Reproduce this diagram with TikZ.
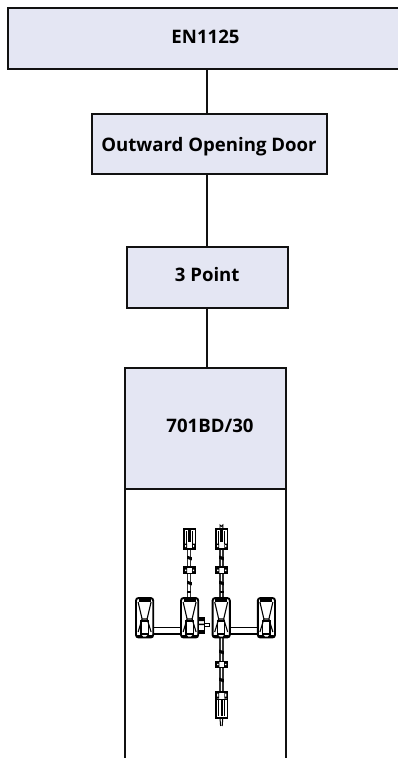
\documentclass[tikz,border=0pt]{standalone}
\usepackage{fontspec}
\setmainfont{Open Sans}
\definecolor{boxfill}{HTML}{E4E6F3}
\definecolor{edge}{HTML}{111111}
\newcommand{\boxtext}[2]{\raisebox{-#1pt}[0pt][0pt]{#2}}
\tikzset{
  x=1pt,y=-1pt,
  box/.style={draw=edge,line width=2pt,fill=boxfill,inner sep=0pt,outer sep=0pt,font=\fontsize{18.6}{20}\selectfont\bfseries,align=center},
  conn/.style={draw=edge,line width=2pt},
  wall/.style={draw=edge,line width=2pt},
  rod/.style={draw=black!80,line width=1.2pt},
  hw/.style={draw=black,line width=1.2pt},
  padpic/.pic={
    \draw[hw,line width=1.9pt,rounded corners=2.6pt,fill=white] (-8.6,0) rectangle (8.6,39.5);
    \draw[hw,line width=2.6pt] (-6,2.6) -- (6,2.6);
    \draw[hw,line width=1.1pt] (-6.5,4) -- (-2.5,21) -- (2.5,21) -- (6.5,4);
    \draw[hw,line width=1.1pt] (-2.5,21) -- (-6.5,34) (2.5,21) -- (6.5,34);
    \draw[hw,line width=1.1pt] (-3.6,23) rectangle (3.6,36);
    \draw[hw,line width=2.8pt,line cap=round] (-7,38.2) -- (-3,38.2) (3,38.2) -- (7,38.2);
  },
  guidepic/.pic={
    \fill[black] (-2.4,-2.4) -- (2.4,-.8) -- (2.4,2.4) -- (-2.4,.8) -- cycle;
  },
  clamppic/.pic={
    \draw[hw,line width=1.3pt,fill=white] (-5.6,-3.2) rectangle (5.6,3.2);
    \fill[black] (-5.6,-3.2) rectangle (-2.4,3.2) (2.4,-3.2) rectangle (5.6,3.2);
    \fill[white] (-4.6,-.7) rectangle (-3.2,.7) (3.2,-.7) rectangle (4.6,.7);
  },
  uppick/.pic={
    \draw[hw,line width=1.4pt,fill=white] (-5.6,0) rectangle (5.6,20);
    \draw[hw,line width=.9pt] (-3,2) -- (-3,15) (3,2) -- (3,15);
    \fill[black] (-1.5,1) rectangle (1.5,13);
    \fill[black] (-5.6,14.5) rectangle (-2.6,20) (2.6,14.5) rectangle (5.6,20);
    \fill[white] (-4.6,16) rectangle (-3.4,18) (3.4,16) rectangle (4.6,18);
  },
  downpick/.pic={
    \draw[hw,line width=1.4pt,fill=white] (-5.6,0) rectangle (5.6,26);
    \fill[black] (-5.6,0) rectangle (-2.6,6.5) (2.6,0) rectangle (5.6,6.5);
    \fill[white] (-4.6,1.6) rectangle (-3.4,4.6) (3.4,1.6) rectangle (4.6,4.6);
    \draw[hw,line width=.9pt] (-3,7) -- (-3,24) (3,7) -- (3,24);
    \draw[hw,line width=.9pt] (-5.6,7.5) -- (5.6,7.5);
    \fill[black] (-1,8) rectangle (1,24);
  },
}
\begin{document}
\begin{tikzpicture}
\useasboundingbox (0,0) rectangle (398,758);
\node[box,minimum width=396pt,minimum height=60.5pt] (std) at (205.5,38.7) {\boxtext{5.0}{EN1125}};
\node[box,minimum width=235pt,minimum height=60pt] (door) at (209,144) {\boxtext{7.4}{Outward Opening Door}};
\node[box,minimum width=161pt,minimum height=60.4pt] (pts) at (207.2,277.5) {\boxtext{4.2}{3 Point}};
\node[box,minimum width=161pt,minimum height=121pt] (prod) at (205.5,428.2) {\hspace*{9pt}\boxtext{4.5}{701BD/30}};
\coordinate (spine) at (206.5,0);
\coordinate (wl) at (125,762);
\coordinate (wr) at (286,762);
\draw[conn] (std.south -| spine) -- (door.north -| spine);
\draw[conn] (door.south -| spine) -- (pts.north -| spine);
\draw[conn] (pts.south -| spine) -- (prod.north -| spine);
\draw[wall] (prod.south west) -- (wl);
\draw[wall] (prod.south east) -- (wr);
% upper rods
\foreach \x/\a in {189.2/533,221.4/529}{
  \draw[rod] (\x-1.5,\a) -- (\x-1.5,600) (\x+1.5,\a) -- (\x+1.5,600);
}
\draw[hw,line width=.9pt] (220,529) -- (220,525) arc (180:0:1.4) -- (222.8,529);
% lower rod
\draw[rod] (219.9,636) -- (219.9,692) (222.9,636) -- (222.9,692);
\draw[hw,line width=1pt] (220,718) -- (220.6,726) (222.8,718) -- (222.2,726);
% picks and clamps
\path (189.6,529) pic {uppick};
\path (221.7,529) pic {uppick};
\path (189.6,570.3) pic {clamppic};
\path (221.7,570.3) pic {clamppic};
\path (221.7,664.5) pic {clamppic};
\path (221.7,692) pic {downpick};
\foreach \p in {(189.4,558),(221.5,558),(189.4,583),(221.5,583),(221.5,652),(221.5,680)}{
  \path \p pic {guidepic};
}
\foreach \p in {(189.4,592),(221.5,592)}{\fill[black] \p ++(-2,-.7) rectangle ++(4,1.4);}
% bars
\draw[hw,line width=1.3pt,fill=white] (150,627.5) rectangle (184,634);
\draw[hw,line width=1.3pt,fill=white] (226,627.5) rectangle (262,634);
% pads
\path (144.6,598) pic {padpic};
\path (189.6,598) pic {padpic};
\path (221.2,598) pic {padpic};
\path (266.4,598) pic {padpic};
% latch
\draw[hw,line width=1.1pt,fill=white] (198.6,618) rectangle (204.4,633);
\fill[black] (199,618) rectangle (204,621) (199,623.5) rectangle (204,625) (199,630) rectangle (204,633);
\draw[hw,line width=1pt] (204.4,623.5) -- (209.5,623.5) -- (209.5,626.5) -- (204.4,626.5);
\end{tikzpicture}
\end{document}
